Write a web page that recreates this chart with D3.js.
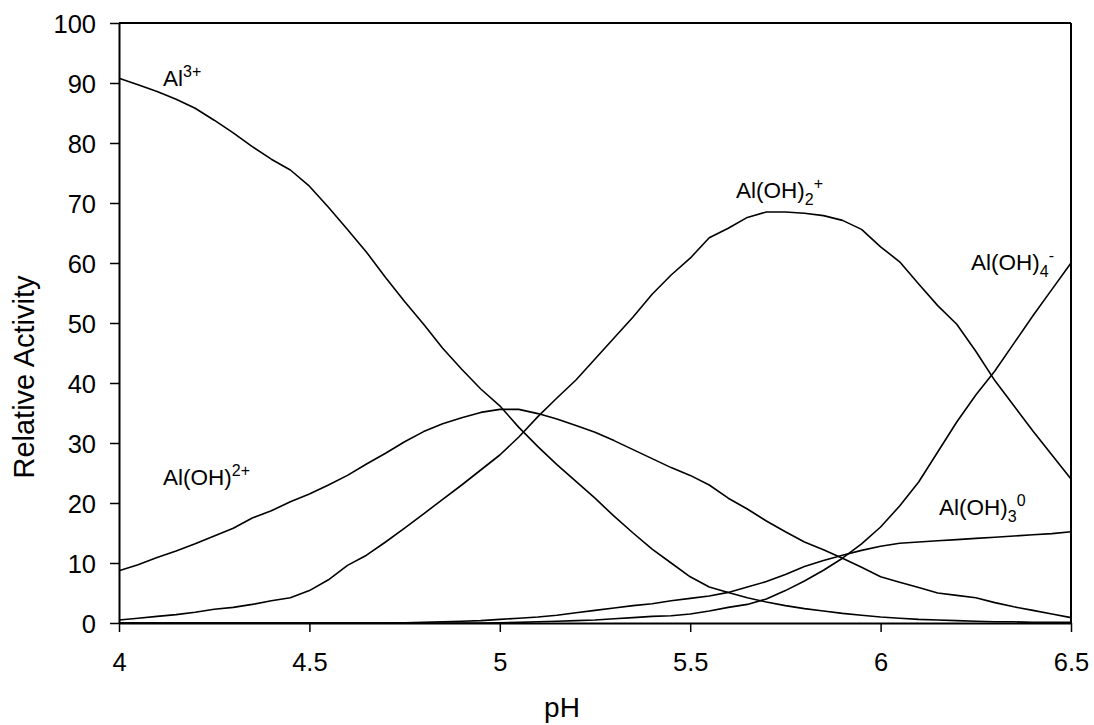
<!DOCTYPE html>
<html>
<head>
<meta charset="utf-8">
<script src="https://cdn.jsdelivr.net/npm/d3@7/dist/d3.min.js"></script>
<style>
  body { margin: 0; background: #fff; }
  text { font-family: "Liberation Sans", Arial, sans-serif; fill: #000; }
</style>
</head>
<body>
<svg id="chart" width="1094" height="725"></svg>
<script>
const pH = [4.00,4.05,4.10,4.15,4.20,4.25,4.30,4.35,4.40,4.45,4.50,4.55,4.60,4.65,4.70,4.75,4.80,4.85,4.90,4.95,
            5.00,5.05,5.10,5.15,5.20,5.25,5.30,5.35,5.40,5.45,5.50,5.55,5.60,5.65,5.70,5.75,5.80,5.85,5.90,5.95,
            6.00,6.05,6.10,6.15,6.20,6.25,6.30,6.35,6.40,6.45,6.50];

const al3 = [90.8,89.7,88.6,87.3,85.8,83.8,81.7,79.4,77.3,75.5,72.8,69.3,65.6,61.8,57.6,53.6,49.8,45.8,42.3,39.0,
             36.2,32.6,29.4,26.4,23.6,20.8,17.8,15.0,12.3,10.0,7.7,6.0,5.1,4.2,3.5,2.9,2.4,2.0,1.6,1.3,
             1.0,0.8,0.6,0.5,0.4,0.3,0.2,0.2,0.1,0.1,0.1];

const aloh = [8.7,9.7,10.9,12.0,13.2,14.5,15.8,17.5,18.7,20.2,21.5,23.0,24.6,26.5,28.3,30.2,31.9,33.2,34.2,35.1,
              35.6,35.6,34.9,34.0,32.9,31.8,30.4,28.9,27.4,25.9,24.6,23.0,20.8,19.0,17.0,15.2,13.5,12.2,10.8,9.3,
              7.7,6.8,5.9,5.0,4.6,4.2,3.4,2.7,2.1,1.5,0.9];

const aloh2 = [0.5,0.8,1.1,1.4,1.8,2.3,2.6,3.1,3.7,4.2,5.4,7.2,9.6,11.3,13.5,15.8,18.2,20.6,23.0,25.5,
               28.0,31.0,34.4,37.5,40.5,44.0,47.5,51.0,54.8,58.0,60.8,64.2,65.8,67.6,68.5,68.5,68.3,67.9,67.1,65.6,
               62.7,60.2,56.5,52.9,49.8,45.3,40.4,36.2,32.0,28.0,24.0];

const aloh3 = [0,0,0,0,0,0,0,0,0,0,0,0,0,0,0,0.05,0.1,0.2,0.3,0.4,
               0.6,0.8,1.0,1.3,1.7,2.1,2.5,2.9,3.2,3.7,4.1,4.5,5.1,6.0,6.9,8.1,9.4,10.4,11.3,12.1,
               12.8,13.3,13.5,13.7,13.9,14.1,14.3,14.5,14.7,14.9,15.2];

const aloh4 = [0,0,0,0,0,0,0,0,0,0,0,0,0,0,0,0,0,0,0,0,
               0.05,0.1,0.2,0.3,0.4,0.5,0.7,0.9,1.1,1.2,1.5,2.0,2.6,3.1,4.0,5.4,7.0,8.8,10.8,13.2,
               16.0,19.5,23.5,28.5,33.5,38.0,42.0,46.6,51.2,55.6,60.0];

const xTicks = [4, 4.5, 5, 5.5, 6, 6.5];
const yTicks = [0,10,20,30,40,50,60,70,80,90,100];

const series = [al3, aloh, aloh2, aloh3, aloh4];

const svg = d3.select("#chart");
const L = 119, R = 1071, T = 23, B = 623;

const x = d3.scaleLinear().domain([4, 6.5]).range([L, R]);
const y = d3.scaleLinear().domain([0, 100]).range([B, T]);

// Curves
const line = d3.line().x((d, i) => x(pH[i])).y(d => y(d));
series.forEach(s => {
  svg.append("path").datum(s).attr("d", line)
    .attr("fill", "none").attr("stroke", "#000").attr("stroke-width", 1.6)
    .attr("stroke-linejoin", "round");
});

// Frame (top, right)
svg.append("line").attr("x1", L).attr("x2", R).attr("y1", T).attr("y2", T)
  .attr("stroke", "#000").attr("stroke-width", 2);
svg.append("line").attr("x1", R).attr("x2", R).attr("y1", T).attr("y2", B)
  .attr("stroke", "#000").attr("stroke-width", 2);

// Axes
const xAxis = d3.axisBottom(x).tickValues(xTicks).tickSize(9).tickSizeOuter(0).tickPadding(21)
  .tickFormat(d3.format(""));
const gx = svg.append("g").attr("transform", `translate(0,${B})`).call(xAxis);
const yAxis = d3.axisLeft(y).tickValues(yTicks).tickSize(9).tickSizeOuter(0).tickPadding(14);
const gy = svg.append("g").attr("transform", `translate(${L},0)`).call(yAxis);

[gx, gy].forEach(g => {
  g.select(".domain").attr("stroke", "#000").attr("stroke-width", 2);
  g.selectAll(".tick line").attr("stroke", "#000").attr("stroke-width", 1.5);
  g.selectAll(".tick text").attr("font-size", 25.5).attr("fill", "#000")
    .style("font-family", '"Liberation Sans", Arial, sans-serif');
});
gx.selectAll(".tick text").attr("dy", "0.71em");
gy.selectAll(".tick text").attr("dy", "0.36em");

// Axis titles
svg.append("text").attr("x", 562).attr("y", 717).attr("text-anchor", "middle")
  .attr("font-size", 28).text("pH");
svg.append("text").attr("transform", "translate(34,377) rotate(-90)")
  .attr("text-anchor", "middle").attr("font-size", 29).text("Relative Activity");

// Species labels
function label(xp, yp, main, sub, sup) {
  const t = svg.append("text").attr("x", xp).attr("y", yp).attr("font-size", 22.5);
  t.append("tspan").text(main);
  if (sub) t.append("tspan").attr("font-size", 16).attr("dy", 7).text(sub);
  if (sup) t.append("tspan").attr("font-size", 16).attr("dy", sub ? -16 : -9).text(sup);
}
label(163, 86, "Al", null, "3+");
label(163, 485, "Al(OH)", null, "2+");
label(736, 198, "Al(OH)", "2", "+");
label(971, 270, "Al(OH)", "4", "-");
label(939, 515, "Al(OH)", "3", "0");
</script>
</body>
</html>
